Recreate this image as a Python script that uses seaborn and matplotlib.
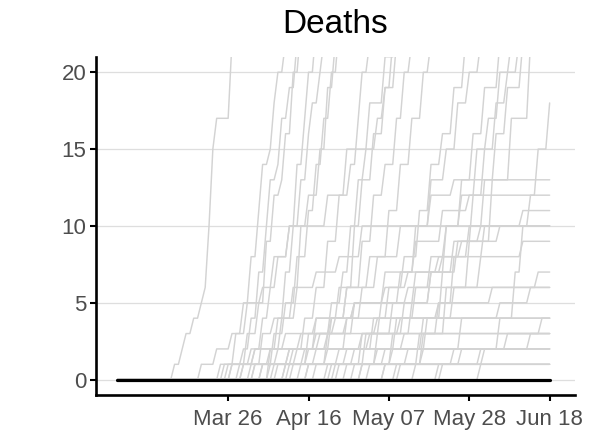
import numpy as np
import pandas as pd
import matplotlib.pyplot as plt
import seaborn as sns

start_date = "2020-02-26"
end_date = "2020-06-18"
tick_dates = ["2020-03-26", "2020-04-16", "2020-05-07", "2020-05-28", "2020-06-18"]
tick_labels = ["Mar 26", "Apr 16", "May 07", "May 28", "Jun 18"]
y_ticks = [0, 5, 10, 15, 20]

# cumulative deaths per county, as (days after Feb 26, new total from that day)
county_steps = [
    [(15, 1), (17, 2), (18, 3), (20, 4), (22, 5), (23, 6), (24, 10), (25, 15), (26, 17), (30, 22), (31, 26)],
    [(28, 1), (31, 3), (33, 5), (35, 8), (37, 11), (38, 14), (40, 15), (41, 18), (42, 20), (44, 22)],
    [(30, 1), (33, 2), (35, 4), (37, 7), (39, 10), (40, 13), (42, 14), (43, 17), (45, 19), (47, 22)],
    [(32, 1), (34, 3), (37, 5), (39, 9), (41, 12), (43, 13), (44, 16), (46, 20), (48, 23)],
    [(33, 1), (36, 2), (38, 4), (40, 6), (42, 8), (45, 10), (47, 14), (49, 17), (50, 20), (52, 23)],
    [(35, 1), (38, 3), (41, 4), (44, 7), (46, 10), (48, 13), (50, 16), (51, 18), (53, 20), (54, 22)],
    [(36, 1), (40, 2), (43, 4), (46, 6), (48, 10), (50, 12), (53, 15), (55, 19), (57, 22)],
    [(38, 1), (41, 3), (44, 5), (47, 8), (50, 11), (52, 14), (54, 17), (56, 20), (58, 23)],
    [(41, 1), (45, 2), (49, 4), (52, 6), (55, 9), (58, 12), (61, 14), (63, 17), (64, 20), (66, 22)],
    [(42, 1), (47, 2), (52, 3), (56, 5), (59, 7), (61, 10), (63, 13), (65, 15), (68, 17), (70, 19), (72, 22)],
    [(44, 1), (49, 2), (53, 3), (57, 4), (60, 6), (62, 10), (64, 13), (67, 16), (70, 19), (73, 22)],
    [(46, 1), (52, 2), (56, 4), (60, 6), (64, 9), (67, 12), (70, 14), (73, 17), (75, 20), (77, 22)],
    [(50, 1), (55, 2), (60, 4), (64, 6), (68, 8), (71, 11), (74, 14), (77, 17), (80, 20), (82, 22)],
    [(56, 1), (62, 2), (67, 4), (71, 6), (75, 8), (79, 11), (82, 14), (85, 16), (88, 19), (91, 22)],
    [(58, 1), (64, 3), (69, 5), (74, 7), (78, 10), (82, 13), (86, 15), (89, 18), (92, 20), (95, 22)],
    [(62, 1), (68, 2), (73, 4), (78, 6), (82, 8), (86, 10), (90, 13), (93, 16), (96, 19), (100, 22)],
    [(66, 1), (72, 3), (77, 5), (82, 7), (86, 10), (90, 12), (94, 15), (97, 17), (100, 20), (103, 22)],
    [(70, 1), (76, 2), (81, 4), (85, 7), (89, 9), (93, 12), (96, 15), (99, 18), (102, 20), (105, 22)],
    [(73, 1), (79, 3), (84, 5), (88, 8), (92, 10), (96, 13), (99, 16), (102, 19), (106, 22)],
    [(22, 1), (26, 2), (30, 3), (34, 5), (38, 6), (41, 8), (45, 10), (55, 12), (60, 15), (66, 18), (70, 21), (73, 24)],
    [(74, 1), (80, 3), (86, 6), (92, 9), (98, 13), (103, 17), (108, 22)],
    [(85, 1), (95, 2), (100, 4), (104, 7), (106, 10), (108, 12), (110, 15), (113, 18)],
    [(40, 1), (45, 2), (52, 4), (58, 6), (66, 8), (74, 10), (82, 12), (88, 13)],
    [(48, 1), (55, 3), (62, 5), (70, 7), (78, 9), (85, 11), (92, 12)],
    [(60, 1), (68, 3), (75, 5), (82, 7), (88, 9), (95, 10), (106, 11)],
    [(30, 1), (36, 2), (42, 4), (47, 6), (52, 7), (58, 8), (64, 10)],
    [(55, 1), (65, 3), (72, 5), (78, 7), (85, 8), (96, 10)],
    [(64, 1), (72, 2), (80, 4), (88, 6), (95, 8), (106, 9)],
    [(45, 1), (50, 3), (56, 4), (62, 5), (70, 6), (76, 7), (84, 8), (90, 9), (100, 10)],
    [(50, 1), (58, 2), (66, 3), (74, 4), (84, 5), (98, 6), (110, 7)],
    [(27, 1), (35, 2), (44, 3), (52, 4), (62, 5), (76, 6)],
    [(70, 1), (80, 2), (90, 4), (100, 5), (108, 6)],
    [(33, 1), (42, 2), (55, 3), (68, 4)],
    [(78, 1), (90, 2), (102, 3), (111, 4)],
    [(40, 2), (48, 3), (60, 4)],
    [(38, 1), (50, 2), (64, 3)],
    [(84, 1), (96, 2), (108, 3)],
    [(52, 1), (60, 2), (75, 3)],
    [(29, 1), (46, 2)],
    [(64, 1), (88, 2)],
    [(57, 1), (70, 2)],
    [(36, 1)],
    [(44, 1)],
    [(95, 1)],
]

sns.set_theme(style="white")
plt.rcParams['font.family'] = ['Liberation Sans', 'DejaVu Sans']

dates = pd.date_range(start_date, end_date, freq="D")
frames = []
for i, steps in enumerate(county_steps):
    s = pd.Series(np.nan, index=range(len(dates)))
    s.iloc[0] = 0
    for day, total in steps:
        s.iloc[day] = total
    frames.append(pd.DataFrame({"date": dates, "deaths": s.ffill().values, "county": i}))
df = pd.concat(frames, ignore_index=True)
ref = pd.DataFrame({"date": dates, "deaths": 0.0})

fig = plt.figure(figsize=(5.97, 4.37), dpi=100)
ax = fig.add_axes([0.161, 0.096, 0.802, 0.774])

sns.lineplot(data=df, x="date", y="deaths", units="county", estimator=None,
             color="#d3d3d3", linewidth=1.05, ax=ax)
sns.lineplot(data=ref, x="date", y="deaths", color="black", linewidth=2.3, ax=ax)

x0 = pd.Timestamp(start_date) - pd.Timedelta(days=5.5)
x1 = pd.Timestamp(start_date) + pd.Timedelta(days=119.6)
ax.set_xlim(x0, x1)
ax.set_ylim(-1, 21)
ax.set_xticks(pd.to_datetime(tick_dates))
ax.set_xticklabels(tick_labels)
ax.set_yticks(y_ticks)
ax.set_yticklabels([str(v) for v in y_ticks])
ax.set_xlabel("")
ax.set_ylabel("")
ax.set_title("Deaths", fontsize=24, pad=17, color="black")

ax.yaxis.grid(True, color="#dedede", linewidth=0.9)
ax.set_axisbelow(True)
for side in ["top", "right"]:
    ax.spines[side].set_visible(False)
for side in ["left", "bottom"]:
    ax.spines[side].set_color("black")
    ax.spines[side].set_linewidth(1.9)
ax.tick_params(axis="both", which="major", length=4, width=1.5, color="black",
               labelsize=16, labelcolor="#4d4d4d", bottom=True, left=True, pad=3)
ax.tick_params(axis="x", pad=6)

fig.savefig("out.png", dpi=100)
